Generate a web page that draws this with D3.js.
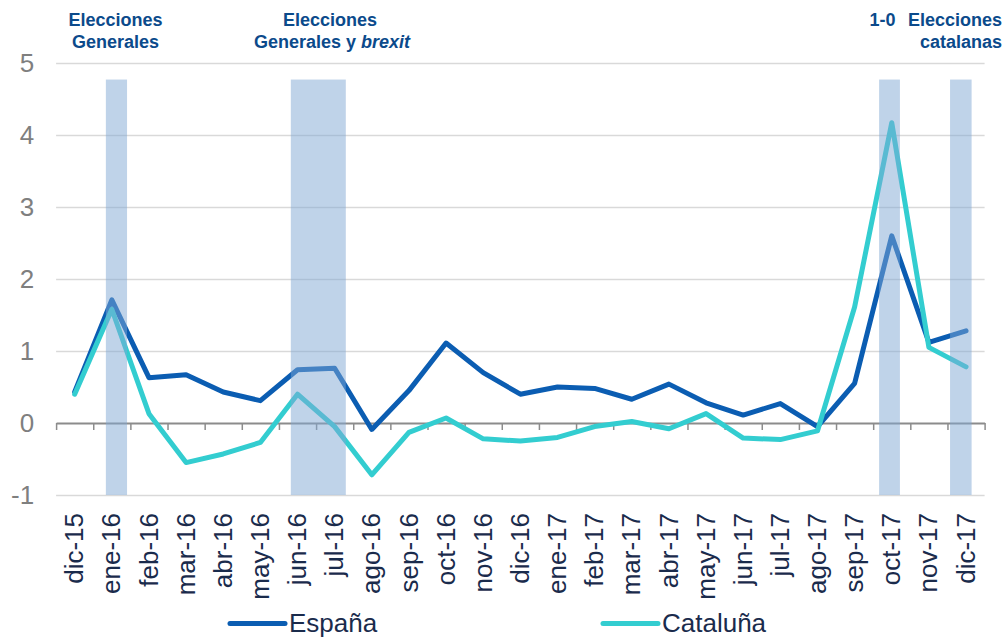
<!DOCTYPE html>
<html>
<head>
<meta charset="utf-8">
<script src="https://cdn.jsdelivr.net/npm/d3@7"></script>
<style>
	body { margin: 0; background: #fff; }
	svg { display: block; font-family: "Liberation Sans", Arial, sans-serif; }
</style>
</head>
<body>
<div id="graph"></div>
<script>
const months = ["dic-15", "ene-16", "feb-16", "mar-16", "abr-16", "may-16", "jun-16", "jul-16", "ago-16",
	"sep-16", "oct-16", "nov-16", "dic-16", "ene-17", "feb-17", "mar-17", "abr-17", "may-17", "jun-17",
	"jul-17", "ago-17", "sep-17", "oct-17", "nov-17", "dic-17"];

const espana = [0.43, 1.71, 0.63, 0.67, 0.43, 0.31, 0.74, 0.76, -0.09, 0.45, 1.11, 0.70, 0.40,
	0.50, 0.48, 0.33, 0.54, 0.28, 0.11, 0.27, -0.05, 0.55, 2.60, 1.12, 1.28];

const cataluna = [0.40, 1.58, 0.13, -0.55, -0.43, -0.27, 0.40, -0.05, -0.72, -0.13, 0.07, -0.22, -0.25,
	-0.20, -0.05, 0.02, -0.08, 0.13, -0.21, -0.23, -0.11, 1.61, 4.17, 1.05, 0.78];

const yTicks = [-1, 0, 1, 2, 3, 4, 5];

// election periods, as fractional month positions (0 = dic-15)
const eventStart = [0.84, 5.82, 21.66, 23.57];
const eventEnd = [1.41, 7.30, 22.22, 24.15];
const eventTop = 4.77;

const seriesNames = ["España", "Cataluña"];
const seriesColors = ["#0b5db2", "#33cdd0"];

const width = 1007, height = 638;

const svg = d3.select("#graph")
	.append("svg")
	.attr("width", width)
	.attr("height", height);

const x = d3.scaleLinear()
	.domain([-0.5, months.length - 0.5])
	.range([56.1, 984.6]);

const y = d3.scaleLinear()
	.domain([-1, 5])
	.range([495, 63]);

// gridlines
svg.append("g")
	.attr("transform", "translate(" + x.range()[0] + ",0)")
	.call(d3.axisLeft(y)
		.tickValues(yTicks.filter(d => d !== 0))
		.tickSize(-(x.range()[1] - x.range()[0]))
		.tickFormat(""))
	.call(g => g.select(".domain").remove())
	.call(g => g.selectAll("line").attr("stroke", "#d9d9d9").attr("stroke-width", 1.5));

// y labels (plain hyphen for negatives, like the original)
svg.append("g")
	.attr("transform", "translate(" + x.range()[0] + ",0)")
	.call(d3.axisLeft(y).tickValues(yTicks).tickSize(0).tickPadding(22).tickFormat(d => String(d)))
	.call(g => g.select(".domain").remove())
	.call(g => g.selectAll("text")
		.attr("fill", "#7f7f7f")
		.attr("font-size", 26)
		.attr("font-family", "Liberation Sans, Arial, sans-serif"));

// x axis on zero with ticks between months
svg.append("g")
	.attr("transform", "translate(0," + y(0) + ")")
	.call(d3.axisBottom(x)
		.tickValues(d3.range(-0.5, months.length, 1))
		.tickSize(7)
		.tickSizeOuter(0)
		.tickFormat(""))
	.call(g => g.select(".domain").attr("stroke", "#8c8c8c").attr("stroke-width", 2))
	.call(g => g.selectAll("line").attr("stroke", "#8c8c8c").attr("stroke-width", 1.5));

// month labels
svg.append("g")
	.selectAll("text")
	.data(months)
	.enter().append("text")
	.attr("transform", (d, i) => "translate(" + x(i) + ",513) rotate(-90)")
	.attr("dy", "0.33em")
	.attr("text-anchor", "end")
	.attr("font-size", 26)
	.attr("fill", "#1a2b4c")
	.text(d => d);

// lines
const line = d3.line()
	.x((d, i) => x(i))
	.y(d => y(d));

[espana, cataluna].forEach((s, k) => {
	svg.append("path")
		.datum(s)
		.attr("fill", "none")
		.attr("stroke", seriesColors[k])
		.attr("stroke-width", 5)
		.attr("stroke-linejoin", "round")
		.attr("stroke-linecap", "round")
		.attr("d", line);
});

// shaded election periods (over the lines)
svg.append("g")
	.selectAll("rect")
	.data(eventStart)
	.enter().append("rect")
	.attr("x", d => x(d))
	.attr("width", (d, i) => x(eventEnd[i]) - x(d))
	.attr("y", y(eventTop))
	.attr("height", y(-1) - y(eventTop))
	.attr("fill", "#7fa7d4")
	.attr("fill-opacity", 0.5);

// annotations
const annColor = "#0b4a8b";
const ann = svg.append("g")
	.attr("font-weight", "bold")
	.attr("font-size", 18)
	.attr("fill", annColor);

ann.append("text").attr("x", 115.5).attr("y", 26).attr("text-anchor", "middle").text("Elecciones");
ann.append("text").attr("x", 115.5).attr("y", 48).attr("text-anchor", "middle").text("Generales");

ann.append("text").attr("x", 330).attr("y", 26).attr("text-anchor", "middle").text("Elecciones");
const t2 = ann.append("text").attr("x", 332).attr("y", 48).attr("text-anchor", "middle");
t2.append("tspan").text("Generales y ");
t2.append("tspan").attr("font-style", "italic").text("brexit");

ann.append("text").attr("x", 882.5).attr("y", 26).attr("text-anchor", "middle").text("1-0");
ann.append("text").attr("x", 1002).attr("y", 26).attr("text-anchor", "end").text("Elecciones");
ann.append("text").attr("x", 1002).attr("y", 48).attr("text-anchor", "end").text("catalanas");

// legend (nudged up a little so descenders stay inside the page)
const legendX = [230, 603];
const legend = svg.append("g")
	.selectAll("g")
	.data(seriesNames)
	.enter().append("g")
	.attr("transform", (d, i) => "translate(" + legendX[i] + ",623.5)");

legend.append("line")
	.attr("x1", 0).attr("x2", 55)
	.attr("stroke", (d, i) => seriesColors[i])
	.attr("stroke-width", 5)
	.attr("stroke-linecap", "round");

legend.append("text")
	.attr("x", 59)
	.attr("y", 8)
	.attr("font-size", 26)
	.attr("fill", "#1a2b4c")
	.text(d => d);
</script>
</body>
</html>
